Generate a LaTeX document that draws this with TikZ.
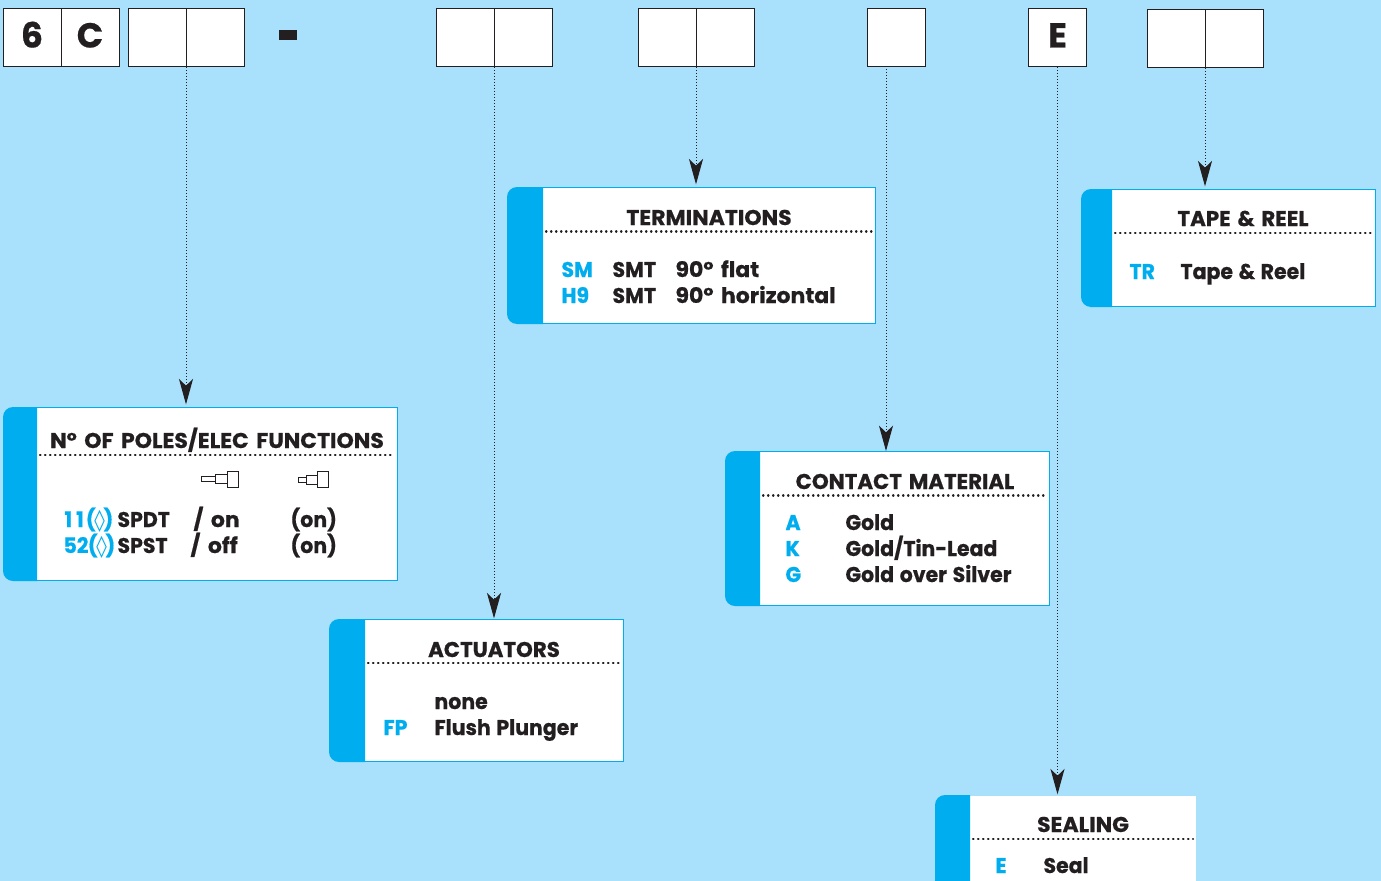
\documentclass[tikz,border=0pt]{standalone}
\usepackage{fontspec}
\setmainfont[FakeStretch=1.0,WordSpace=1.5,BoldFeatures={FakeBold=0.6}]{Poppins}
\newfontfamily\itemface[FakeStretch=0.96,WordSpace=1.3,BoldFeatures={FakeBold=0.6}]{Poppins}
\newfontfamily\wideface[FakeStretch=1.03,WordSpace=1.6,BoldFeatures={FakeBold=0.6}]{Poppins}
\newfontfamily\symfont{DejaVu Sans}
\usetikzlibrary{arrows.meta}
\definecolor{skyback}{RGB}{169,224,251}
\definecolor{stripblue}{RGB}{0,174,239}
\definecolor{inkdark}{RGB}{35,31,32}
\tikzset{every picture/.style={line width=0.75pt}}
\tikzset{
  codecell/.style={draw=inkdark,fill=white,anchor=north west,inner sep=0pt,minimum width=43.5pt,minimum height=43.5pt,text height=17pt,text depth=2pt,text=inkdark,font=\fontsize{26}{30}\selectfont\bfseries},
  panelbox/.style={draw=stripblue,fill=white,anchor=north west,inner sep=0pt},
  stripfill/.style={fill=stripblue},
  titletext/.style={anchor=base,inner sep=0pt,text=inkdark,font=\fontsize{16}{20}\selectfont\bfseries},
  widetitle/.style={titletext,font=\fontsize{16}{20}\selectfont\wideface\bfseries},
  itemtext/.style={anchor=base west,inner sep=0pt,text=inkdark,font=\fontsize{16}{20}\selectfont\itemface\bfseries},
  wideitem/.style={itemtext,font=\fontsize{16}{20}\selectfont\wideface\bfseries},
  codetext/.style={itemtext,text=stripblue},
  dotrule/.style={draw=inkdark,line width=1.6pt,line cap=round,dash pattern=on 0.4pt off 3.35pt},
  leader/.style={draw=inkdark,line width=0.75pt,dash pattern=on 0.75pt off 1.5pt,-{Stealth[length=19pt,width=10.5pt,inset=5pt,fill=inkdark]},shorten >=2pt},
  iconpart/.style={draw=inkdark,line width=0.75pt,fill=white},
}
\begin{document}
\begin{tikzpicture}[x=0.75pt,y=0.75pt,yscale=-1,xscale=1]
\clip (0,0) rectangle (1381,881);
\fill[skyback] (0,0) rectangle (1381,881);

%Code cells
\node (cellSix) [codecell] at (2.5,8) {6};
\node (cellC) [codecell] at (60.5,8) {C};
\node (cellPolesA) [codecell] at (128,8) {};
\node (cellPolesB) [codecell] at (186,8) {};
\node (cellDash) [fill=inkdark,inner sep=0pt,minimum width=13.5pt,minimum height=7.5pt] at (288,35) {};
\node (cellActA) [codecell] at (436,8) {};
\node (cellActB) [codecell] at (494,8) {};
\node (cellTermA) [codecell] at (638,8) {};
\node (cellTermB) [codecell] at (696,8) {};
\node (cellContact) [codecell] at (867,8) {};
\node (cellE) [codecell] at (1028,8) {E};
\node (cellTapeA) [codecell] at (1147,9) {};
\node (cellTapeB) [codecell] at (1205,9) {};
\coordinate (footContact) at (886,66);

%Panels
\node (panelPoles) [panelbox,minimum width=361*0.75pt,minimum height=173*0.75pt] at (36,407) {};
\fill[stripfill] (37,407) [rounded corners=7.5pt] -- (3,407) -- (3,581) -- (25,581) [sharp corners] -- (37,581) -- cycle;
\node (panelTerm) [panelbox,minimum width=333*0.75pt,minimum height=136*0.75pt] at (542,187) {};
\fill[stripfill] (543,187) [rounded corners=7.5pt] -- (507,187) -- (507,324) -- (530,324) [sharp corners] -- (543,324) -- cycle;
\node (panelTape) [panelbox,minimum width=264*0.75pt,minimum height=117*0.75pt] at (1111,189) {};
\fill[stripfill] (1112,189) [rounded corners=7.5pt] -- (1081,189) -- (1081,307) -- (1100,307) [sharp corners] -- (1112,307) -- cycle;
\node (panelContact) [panelbox,minimum width=290*0.75pt,minimum height=154*0.75pt] at (759,451) {};
\fill[stripfill] (760,451) [rounded corners=7.5pt] -- (725,451) -- (725,606) -- (747,606) [sharp corners] -- (760,606) -- cycle;
\node (panelAct) [panelbox,minimum width=259*0.75pt,minimum height=142*0.75pt] at (364,619) {};
\fill[stripfill] (365,619) [rounded corners=7.5pt] -- (329,619) -- (329,762) -- (352,762) [sharp corners] -- (365,762) -- cycle;
\node (panelSeal) [panelbox,draw=none,minimum width=226*0.75pt,minimum height=120*0.75pt] at (969,795) {};
\fill[stripfill] (970,795) [rounded corners=7.5pt] -- (935,795) -- (935,915) -- (957,915) [sharp corners] -- (970,915) -- cycle;

%Connectors
\draw [leader] ([xshift=-0.75pt]cellPolesA.south east) -- ([xshift=-0.75pt]cellPolesA.south east |- panelPoles.north);
\draw [leader,shorten >=0.5pt] ([xshift=-0.75pt]cellActA.south east) -- ([xshift=-0.75pt]cellActA.south east |- panelAct.north);
\draw [leader] ([xshift=-0.75pt]cellTermA.south east) -- ([xshift=-0.75pt]cellTermA.south east |- panelTerm.north);
\draw [leader,shorten >=0pt] (footContact) -- (footContact |- panelContact.north);
\draw [leader,shorten >=0.5pt] (cellE.south) -- (cellE.south |- panelSeal.north);
\draw [leader] ([xshift=-0.75pt]cellTapeA.south east) -- ([xshift=-0.75pt]cellTapeA.south east |- panelTape.north);

%Dotted rules
\draw [dotrule] (40,455) -- (394,455);
\draw [dotrule] (546,231.5) -- (873,231.5);
\draw [dotrule] (1115,233) -- (1373,233);
\draw [dotrule] (763,495.5) -- (1047,495.5);
\draw [dotrule] (368,663) -- (621,663);
\draw [dotrule] (973,839) -- (1193,839);

%Plunger icons
\draw [iconpart] (201,476) rectangle (215,481);
\draw [iconpart] (215,474) rectangle (227,483);
\draw [iconpart] (227,471) rectangle (238,487);
\draw [iconpart] (298,477) rectangle (306,482);
\draw [iconpart] (306,475) rectangle (317,484);
\draw [iconpart] (317,471) rectangle (328,487);

% Text Node
\node (titlePoles) [widetitle] at (217,448) {N° OF POLES/ELEC FUNCTIONS};
\node (codeEleven) [codetext] at (64,527) {1\kern3pt 1\kern1.5pt(\kern-1pt{\symfont ◊}\kern-1pt)};
\node (polesSpdt) [itemtext] at (117,527) {SPDT};
\node (polesOn) [wideitem] at (193,527) {/ on};
\node (polesOnA) [itemtext] at (290,527) {(on)};
\node (codeFiftyTwo) [codetext] at (63,553) {52\kern-0.5pt(\kern-1pt{\symfont ◊}\kern-1pt)};
\node (polesSpst) [itemtext] at (117,553) {SPST};
\node (polesOff) [wideitem] at (190,553) {/ off};
\node (polesOnB) [itemtext] at (290,553) {(on)};
% Text Node
\node (titleTerm) [widetitle] at (709,225) {TERMINATIONS};
\node (codeSm) [codetext] at (561,277) {SM};
\node (termSmtA) [itemtext] at (612,277) {SMT};
\node (termFlat) [wideitem] at (675,277) {90° flat};
\node (codeHnine) [codetext] at (561,303) {H9};
\node (termSmtB) [itemtext] at (612,303) {SMT};
\node (termHoriz) [wideitem] at (675,303) {90° horizontal};
% Text Node
\node (titleTape) [titletext] at (1243,226) {TAPE \& REEL};
\node (codeTr) [codetext] at (1129,279) {TR};
\node (tapeReel) [itemtext] at (1180,279) {Tape \& Reel};
% Text Node
\node (titleContact) [titletext] at (905,489) {CONTACT MATERIAL};
\node (codeA) [codetext] at (785,530) {A};
\node (contactGold) [itemtext] at (845,530) {Gold};
\node (codeK) [codetext] at (785,556) {K};
\node (contactTin) [itemtext] at (845,556) {Gold/Tin-Lead};
\node (codeG) [codetext] at (785,582) {G};
\node (contactSilver) [itemtext] at (845,582) {Gold over Silver};
% Text Node
\node (titleAct) [titletext] at (494,657) {ACTUATORS};
\node (actNone) [itemtext] at (434,709) {none};
\node (codeFp) [codetext] at (383,735) {FP};
\node (actFlush) [itemtext] at (434,735) {Flush Plunger};
% Text Node
\node (titleSeal) [widetitle] at (1083,832) {SEALING};
\node (codeE) [codetext] at (995,873) {E};
\node (sealText) [itemtext] at (1043,873) {Seal};

\end{tikzpicture}
\end{document}
